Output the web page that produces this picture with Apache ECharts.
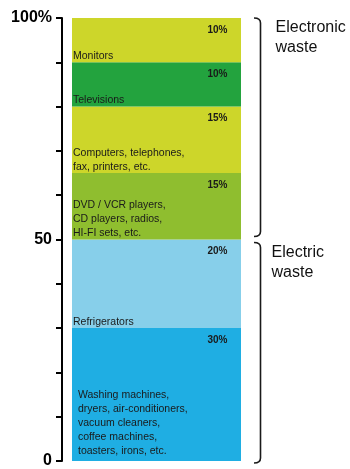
<!DOCTYPE html>
<html>
<head>
<meta charset="utf-8">
<script src="https://cdn.jsdelivr.net/npm/echarts@6/dist/echarts.min.js"></script>
<style>
  html, body { margin: 0; padding: 0; background: #fff; }
  #chart { width: 350px; height: 469px; }
</style>
</head>
<body>
<div id="chart"></div>
<script>
// segments from bottom to top
const segNames = [
  'Washing machines,\ndryers, air-conditioners,\nvacuum cleaners,\ncoffee machines,\ntoasters, irons, etc.',
  'Refrigerators',
  'DVD / VCR players,\nCD players, radios,\nHI-FI sets, etc.',
  'Computers, telephones,\nfax, printers, etc.',
  'Televisions',
  'Monitors'
];
const segValues = [30, 20, 15, 15, 10, 10];
const segColors = ['#1faee3', '#87cfea', '#8fbe2f', '#cdd62a', '#23a33e', '#cdd62a'];
const groupNames = ['Electric\nwaste', 'Electronic\nwaste'];
const groupRanges = [[0, 50], [50, 100]];
const yTickLabels = { 0: '0', 50: '50', 100: '100%' };

const font = '"Liberation Sans", Arial, sans-serif';

// top of each segment, for the percent labels
let acc = 0;
const segTops = segValues.map(v => { acc += v; return [0, acc]; });

const barSeries = segValues.map((v, i) => ({
  name: segNames[i],
  type: 'bar',
  stack: 'total',
  barWidth: 169,
  data: [v],
  itemStyle: { color: segColors[i] },
  label: {
    show: true,
    position: 'insideBottomLeft',
    distance: 0,
    offset: i === 0 ? [6, -3] : [1, 1],
    formatter: segNames[i],
    color: '#1a1a1a',
    fontFamily: font,
    fontSize: 10.5,
    lineHeight: 14
  },
  silent: true
}));

const chart = echarts.init(document.getElementById('chart'));
chart.setOption({
  animation: false,
  grid: { left: 62, right: 99, top: 18, bottom: 6 },
  xAxis: { type: 'category', data: ['waste'], show: false },
  yAxis: {
    type: 'value',
    min: 0,
    max: 100,
    interval: 10,
    splitLine: { show: false },
    axisLine: { show: true, lineStyle: { color: '#000', width: 2 } },
    axisTick: { show: true, length: 6, lineStyle: { color: '#000', width: 2 } },
    axisLabel: {
      margin: 10,
      formatter: v => yTickLabels[v] || '',
      color: '#000',
      fontFamily: font,
      fontWeight: 'bold',
      fontSize: 16
    }
  },
  series: barSeries.concat([
    {
      type: 'custom',
      name: 'pct',
      silent: true,
      z: 10,
      data: segTops,
      encode: { x: 0, y: 1 },
      renderItem: (params, api) => {
        const p = api.coord([api.value(0), api.value(1)]);
        return {
          type: 'text',
          x: p[0] + 71,
          y: p[1] + 12,
          style: {
            text: segValues[params.dataIndex] + '%',
            fill: '#1a1a1a',
            font: 'bold 10px ' + font,
            align: 'right',
            verticalAlign: 'middle'
          }
        };
      }
    },
    {
      type: 'custom',
      name: 'braces',
      silent: true,
      data: groupRanges.map(r => [0, r[0], r[1]]),
      encode: { x: 0, y: [1, 2] },
      renderItem: (params, api) => {
        const lo = api.coord([api.value(0), api.value(1)]);
        const hi = api.coord([api.value(0), api.value(2)]);
        const x0 = lo[0] + 97.5;
        const x1 = lo[0] + 104;
        const yTop = hi[1] + (params.dataIndex === 0 ? 3 : 0);
        const yBot = lo[1] - (params.dataIndex === 1 ? 3 : -2);
        const r = 5;
        const path = 'M' + x0 + ' ' + yTop +
          ' Q' + x1 + ' ' + yTop + ' ' + x1 + ' ' + (yTop + r) +
          ' L' + x1 + ' ' + (yBot - r) +
          ' Q' + x1 + ' ' + yBot + ' ' + x0 + ' ' + yBot;
        const isTop = params.dataIndex === 1;
        return {
          type: 'group',
          children: [
            {
              type: 'path',
              shape: { pathData: path },
              style: { stroke: '#1a1a1a', lineWidth: 1.6, fill: null }
            },
            {
              type: 'text',
              x: lo[0] + (isTop ? 119 : 115),
              y: yTop,
              style: {
                text: groupNames[params.dataIndex],
                fill: '#111',
                font: '16px ' + font,
                lineHeight: 20,
                align: 'left',
                verticalAlign: 'top'
              }
            }
          ]
        };
      }
    }
  ])
});
</script>
</body>
</html>
